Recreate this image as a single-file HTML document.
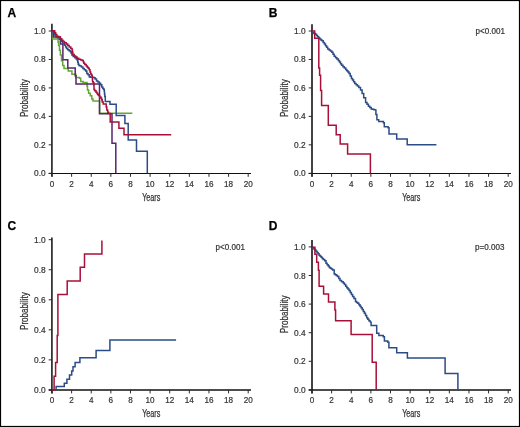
<!DOCTYPE html>
<html><head><meta charset="utf-8"><style>
html,body{margin:0;padding:0;background:#fff;}
svg{display:block;will-change:transform;}
.t{font-family:"Liberation Sans",sans-serif;font-size:8.6px;fill:#333;stroke:#333;stroke-width:0.2px;}
.l{font-family:"Liberation Sans",sans-serif;font-size:9.6px;fill:#333;stroke:#333;stroke-width:0.25px;}
.p{font-family:"Liberation Sans",sans-serif;font-size:8.3px;fill:#333;stroke:#333;stroke-width:0.2px;}
.b{font-family:"Liberation Sans",sans-serif;font-size:12px;font-weight:bold;fill:#000;stroke:#000;stroke-width:0.25px;}
</style></head><body>
<svg width="520" height="427" viewBox="0 0 520 427">
<rect x="0" y="0" width="520" height="427" fill="#fff"/>
<rect x="0.5" y="0.5" width="519" height="426" fill="none" stroke="#000" stroke-width="1.2"/>
<line x1="51.9" y1="23.8" x2="51.9" y2="176.8" stroke="#2a2a2a" stroke-width="1.7"/>
<line x1="48.7" y1="173.5" x2="251.00000000000003" y2="173.5" stroke="#111" stroke-width="1.2"/>
<line x1="48.7" y1="173.30" x2="52" y2="173.30" stroke="#2a2a2a" stroke-width="1"/>
<text transform="translate(45.60,176.30) scale(0.97,1)" text-anchor="end" class="t">0.0</text>
<line x1="48.7" y1="144.84" x2="52" y2="144.84" stroke="#2a2a2a" stroke-width="1"/>
<text transform="translate(45.60,147.84) scale(0.97,1)" text-anchor="end" class="t">0.2</text>
<line x1="48.7" y1="116.38" x2="52" y2="116.38" stroke="#2a2a2a" stroke-width="1"/>
<text transform="translate(45.60,119.38) scale(0.97,1)" text-anchor="end" class="t">0.4</text>
<line x1="48.7" y1="87.92" x2="52" y2="87.92" stroke="#2a2a2a" stroke-width="1"/>
<text transform="translate(45.60,90.92) scale(0.97,1)" text-anchor="end" class="t">0.6</text>
<line x1="48.7" y1="59.46" x2="52" y2="59.46" stroke="#2a2a2a" stroke-width="1"/>
<text transform="translate(45.60,62.46) scale(0.97,1)" text-anchor="end" class="t">0.8</text>
<line x1="48.7" y1="31.00" x2="52" y2="31.00" stroke="#2a2a2a" stroke-width="1"/>
<text transform="translate(45.60,34.00) scale(0.97,1)" text-anchor="end" class="t">1.0</text>
<line x1="52.00" y1="173.3" x2="52.00" y2="176.8" stroke="#2a2a2a" stroke-width="1"/>
<text transform="translate(52.00,186.50) scale(0.95,1)" text-anchor="middle" class="t">0</text>
<line x1="71.62" y1="173.3" x2="71.62" y2="176.8" stroke="#2a2a2a" stroke-width="1"/>
<text transform="translate(71.62,186.50) scale(0.95,1)" text-anchor="middle" class="t">2</text>
<line x1="91.24" y1="173.3" x2="91.24" y2="176.8" stroke="#2a2a2a" stroke-width="1"/>
<text transform="translate(91.24,186.50) scale(0.95,1)" text-anchor="middle" class="t">4</text>
<line x1="110.86" y1="173.3" x2="110.86" y2="176.8" stroke="#2a2a2a" stroke-width="1"/>
<text transform="translate(110.86,186.50) scale(0.95,1)" text-anchor="middle" class="t">6</text>
<line x1="130.48" y1="173.3" x2="130.48" y2="176.8" stroke="#2a2a2a" stroke-width="1"/>
<text transform="translate(130.48,186.50) scale(0.95,1)" text-anchor="middle" class="t">8</text>
<line x1="150.10" y1="173.3" x2="150.10" y2="176.8" stroke="#2a2a2a" stroke-width="1"/>
<text transform="translate(150.10,186.50) scale(0.95,1)" text-anchor="middle" class="t">10</text>
<line x1="169.72" y1="173.3" x2="169.72" y2="176.8" stroke="#2a2a2a" stroke-width="1"/>
<text transform="translate(169.72,186.50) scale(0.95,1)" text-anchor="middle" class="t">12</text>
<line x1="189.34" y1="173.3" x2="189.34" y2="176.8" stroke="#2a2a2a" stroke-width="1"/>
<text transform="translate(189.34,186.50) scale(0.95,1)" text-anchor="middle" class="t">14</text>
<line x1="208.96" y1="173.3" x2="208.96" y2="176.8" stroke="#2a2a2a" stroke-width="1"/>
<text transform="translate(208.96,186.50) scale(0.95,1)" text-anchor="middle" class="t">16</text>
<line x1="228.58" y1="173.3" x2="228.58" y2="176.8" stroke="#2a2a2a" stroke-width="1"/>
<text transform="translate(228.58,186.50) scale(0.95,1)" text-anchor="middle" class="t">18</text>
<line x1="248.20" y1="173.3" x2="248.20" y2="176.8" stroke="#2a2a2a" stroke-width="1"/>
<text transform="translate(248.20,186.50) scale(0.95,1)" text-anchor="middle" class="t">20</text>
<text x="151.30" y="200.60" text-anchor="middle" class="l" style="font-size:10.2px" textLength="18.2" lengthAdjust="spacingAndGlyphs">Years</text>
<text transform="translate(27.70,98.2) rotate(-90)" x="0" y="0" text-anchor="middle" class="l" style="font-size:10px" textLength="37.8" lengthAdjust="spacingAndGlyphs">Probability</text>
<text x="7.5" y="17.1" class="b">A</text>
<path d="M52,31H52.5V39H57.8H58.0V42.0H58.6V45.6H59.5V50.3H60.4V55.1H61.5V60.7H62.7V65.5H64.0V68.6H64.8H68.2V71H71.9V74.2H75.9V77.4H79.5V78.2H80.7V81.4H83.1V82.6H86.8H87.0V86.2H87.5V90.1H88.6V93.3H90.2V95.7H91.8V98.9H93.0V100.9H93.4H99.6V113.2H132.4" fill="none" stroke="#62a833" stroke-width="1.5" stroke-linejoin="miter"/>
<path d="M52,30.8H53.3V37.1H60.4V44H62.9V59.8H67.8V67.9H75.2V75.8H76V84.1H99.5V113.7H112V143.3H115.8V173.3" fill="none" stroke="#5a2470" stroke-width="1.5" stroke-linejoin="miter"/>
<path d="M52.0,30.8H52.9V32.2H54.5V35.0H55.9V37.1H57.5V37.8H59.3V39.2H61.1V41.5H62.8V43.5H64.4V45.3H65.7V47.0H66.5V48.4H67.7V49.8H69.1V50.8H70.3V51.8H71.2V53.2H71.9V55.0H73.2V56.6H74.8V57.8H76.2V59.0H77.3V60.4H77.8V62.3H78.2V64.2H78.9V65.6H80.1V66.1H81.5V67.0H82.9V68.4H84.3V69.8H85.7V71.1H86.8V73.4H88.0V74.8H89.2V76.7H90.2V77.2H93.4V77.2H93.9V77.8H95.1V79.1H96.5V80.9H97.9V81.9H99.3V83.3H100.6V84.8H101.8V87.0H102.8V88.4H103.7V89.4H104.3V91.7H104.5V94.1H104.8V96.4H105.3V101.6H110.0V101.6H110.0V104.2H116.2V104.2H116.2V115.4H124.9V115.4H124.9V123.6H128.2V123.6H128.2V140.0H136.5V140.0H136.5V151.2H147.3V151.2H147.3V173.3H147.3" fill="none" stroke="#2c4c86" stroke-width="1.5" stroke-linejoin="miter"/>
<path d="M52.0,30.8H54.2V30.8H54.7V32.7H55.7V34.6H56.8V36.2H58.5V36.9H60.3V38.8H61.8V40.2H63.0V41.4H64.5V42.7H66.2V44.0H67.8V45.5H69.2V47.0H70.8V48.5H72.1V50.3H72.5V52.6H72.9V54.5H74.2V55.9H75.7V56.9H77.1V58.3H78.7V59.2H80.6V60.0H82.4V60.4H83.3V61.8H83.8V63.2H84.8V64.6H86.2V66.1H87.3V67.3H88.2V68.3H89.2V69.7H90.0V72.0H90.7V73.9H91.5V75.3H92.2V77.2H92.4V80.0H92.6V81.8H93.3V82.8H93.9V85.6H94.0V89.4H94.7V90.8H96.0V92.2H97.0V93.6H97.7V94.5H98.5V95.5H99.7V96.9H100.9V98.3H101.7V99.8H102.2V102.0H103.2V104.0H106.0V104.0H106.2V107.1H106.8V109.9H107.7V112.3H108.5V113.5H110.2V113.5H110.2V121.9H118.9V121.9H118.9V128.3H124.0V128.3H124.0V134.8H171.2V134.8H171.2" fill="none" stroke="#a8103a" stroke-width="1.5" stroke-linejoin="miter"/>
<line x1="312.0" y1="24.2" x2="312.0" y2="176.8" stroke="#222" stroke-width="1.7"/>
<line x1="308.7" y1="173.5" x2="511.00000000000006" y2="173.5" stroke="#111" stroke-width="1.2"/>
<line x1="308.7" y1="173.30" x2="312" y2="173.30" stroke="#2a2a2a" stroke-width="1"/>
<text transform="translate(305.60,176.30) scale(0.97,1)" text-anchor="end" class="t">0.0</text>
<line x1="308.7" y1="144.84" x2="312" y2="144.84" stroke="#2a2a2a" stroke-width="1"/>
<text transform="translate(305.60,147.84) scale(0.97,1)" text-anchor="end" class="t">0.2</text>
<line x1="308.7" y1="116.38" x2="312" y2="116.38" stroke="#2a2a2a" stroke-width="1"/>
<text transform="translate(305.60,119.38) scale(0.97,1)" text-anchor="end" class="t">0.4</text>
<line x1="308.7" y1="87.92" x2="312" y2="87.92" stroke="#2a2a2a" stroke-width="1"/>
<text transform="translate(305.60,90.92) scale(0.97,1)" text-anchor="end" class="t">0.6</text>
<line x1="308.7" y1="59.46" x2="312" y2="59.46" stroke="#2a2a2a" stroke-width="1"/>
<text transform="translate(305.60,62.46) scale(0.97,1)" text-anchor="end" class="t">0.8</text>
<line x1="308.7" y1="31.00" x2="312" y2="31.00" stroke="#2a2a2a" stroke-width="1"/>
<text transform="translate(305.60,34.00) scale(0.97,1)" text-anchor="end" class="t">1.0</text>
<line x1="312.00" y1="173.3" x2="312.00" y2="176.8" stroke="#2a2a2a" stroke-width="1"/>
<text transform="translate(312.00,186.50) scale(0.95,1)" text-anchor="middle" class="t">0</text>
<line x1="331.62" y1="173.3" x2="331.62" y2="176.8" stroke="#2a2a2a" stroke-width="1"/>
<text transform="translate(331.62,186.50) scale(0.95,1)" text-anchor="middle" class="t">2</text>
<line x1="351.24" y1="173.3" x2="351.24" y2="176.8" stroke="#2a2a2a" stroke-width="1"/>
<text transform="translate(351.24,186.50) scale(0.95,1)" text-anchor="middle" class="t">4</text>
<line x1="370.86" y1="173.3" x2="370.86" y2="176.8" stroke="#2a2a2a" stroke-width="1"/>
<text transform="translate(370.86,186.50) scale(0.95,1)" text-anchor="middle" class="t">6</text>
<line x1="390.48" y1="173.3" x2="390.48" y2="176.8" stroke="#2a2a2a" stroke-width="1"/>
<text transform="translate(390.48,186.50) scale(0.95,1)" text-anchor="middle" class="t">8</text>
<line x1="410.10" y1="173.3" x2="410.10" y2="176.8" stroke="#2a2a2a" stroke-width="1"/>
<text transform="translate(410.10,186.50) scale(0.95,1)" text-anchor="middle" class="t">10</text>
<line x1="429.72" y1="173.3" x2="429.72" y2="176.8" stroke="#2a2a2a" stroke-width="1"/>
<text transform="translate(429.72,186.50) scale(0.95,1)" text-anchor="middle" class="t">12</text>
<line x1="449.34" y1="173.3" x2="449.34" y2="176.8" stroke="#2a2a2a" stroke-width="1"/>
<text transform="translate(449.34,186.50) scale(0.95,1)" text-anchor="middle" class="t">14</text>
<line x1="468.96" y1="173.3" x2="468.96" y2="176.8" stroke="#2a2a2a" stroke-width="1"/>
<text transform="translate(468.96,186.50) scale(0.95,1)" text-anchor="middle" class="t">16</text>
<line x1="488.58" y1="173.3" x2="488.58" y2="176.8" stroke="#2a2a2a" stroke-width="1"/>
<text transform="translate(488.58,186.50) scale(0.95,1)" text-anchor="middle" class="t">18</text>
<line x1="508.20" y1="173.3" x2="508.20" y2="176.8" stroke="#2a2a2a" stroke-width="1"/>
<text transform="translate(508.20,186.50) scale(0.95,1)" text-anchor="middle" class="t">20</text>
<text x="411.30" y="200.60" text-anchor="middle" class="l" style="font-size:10.2px" textLength="18.2" lengthAdjust="spacingAndGlyphs">Years</text>
<text transform="translate(287.70,98.2) rotate(-90)" x="0" y="0" text-anchor="middle" class="l" style="font-size:10px" textLength="37.8" lengthAdjust="spacingAndGlyphs">Probability</text>
<text x="268.7" y="17.1" class="b">B</text>
<text x="475.6" y="33.9" class="p" textLength="29.3" lengthAdjust="spacingAndGlyphs">p&lt;0.001</text>
<path d="M312.0,31.0H312.5V32.8H313.9V33.5H315.4V34.2H316.5V35.5H317.6V36.8H318.7V38.1H319.8V39.0H320.9V39.9H322.0V40.8H323.2V42.4H324.4V44.0H325.5V45.7H326.6V47.3H327.7V49.0H329.1V50.1H330.4V51.1H331.8V52.2H333.0V54.2H334.2V56.3H335.6V57.7H336.9V59.0H338.3V60.4H339.4V62.0H340.5V63.7H341.6V65.3H343.0V66.7H344.3V68.0H345.7V69.4H346.8V70.8H347.9V72.1H349.0V73.5H350.2V76.0H351.4V78.5H352.5V80.1H353.6V81.8H354.7V83.4H356.1V84.8H357.4V86.1H358.8V87.5H360.5V90.0H362.1V93.5H363.7V97.8H365.6V102.5H367.0V104.3H368.4V106.2H369.8V107.6H371.2V109.0H372.5V109.3H373.9V109.7H375.2V110.0M375.2,110.0H375.9V114.6H376.9V119.7H378.7V121.6H383.4V122.7H384.3V126.8H388.1V127.8H389.0V133.9H396.7V133.9H396.7V139.0H407.2V139.0H407.2V144.7H436.4" fill="none" stroke="#2c4c86" stroke-width="1.5" stroke-linejoin="miter"/>
<path d="M312,31H314.7V38.3H318.8V68H319.6V75.2H320.6V90.4H321.6V105.4H328.3V125.2H336.2V134.7H340.2V143.9H347.6V154H370.4V173.3" fill="none" stroke="#a8103a" stroke-width="1.5" stroke-linejoin="miter"/>
<line x1="51.9" y1="237.4" x2="51.9" y2="393.4" stroke="#2a2a2a" stroke-width="1.7"/>
<line x1="48.7" y1="390.0" x2="251.00000000000003" y2="390.0" stroke="#111" stroke-width="1.7"/>
<line x1="48.7" y1="389.90" x2="52" y2="389.90" stroke="#2a2a2a" stroke-width="1"/>
<text transform="translate(45.60,392.90) scale(0.97,1)" text-anchor="end" class="t">0.0</text>
<line x1="48.7" y1="359.86" x2="52" y2="359.86" stroke="#2a2a2a" stroke-width="1"/>
<text transform="translate(45.60,362.86) scale(0.97,1)" text-anchor="end" class="t">0.2</text>
<line x1="48.7" y1="329.82" x2="52" y2="329.82" stroke="#2a2a2a" stroke-width="1"/>
<text transform="translate(45.60,332.82) scale(0.97,1)" text-anchor="end" class="t">0.4</text>
<line x1="48.7" y1="299.78" x2="52" y2="299.78" stroke="#2a2a2a" stroke-width="1"/>
<text transform="translate(45.60,302.78) scale(0.97,1)" text-anchor="end" class="t">0.6</text>
<line x1="48.7" y1="269.74" x2="52" y2="269.74" stroke="#2a2a2a" stroke-width="1"/>
<text transform="translate(45.60,272.74) scale(0.97,1)" text-anchor="end" class="t">0.8</text>
<line x1="48.7" y1="239.70" x2="52" y2="239.70" stroke="#2a2a2a" stroke-width="1"/>
<text transform="translate(45.60,242.70) scale(0.97,1)" text-anchor="end" class="t">1.0</text>
<line x1="52.00" y1="389.9" x2="52.00" y2="393.4" stroke="#2a2a2a" stroke-width="1"/>
<text transform="translate(52.00,403.10) scale(0.95,1)" text-anchor="middle" class="t">0</text>
<line x1="71.62" y1="389.9" x2="71.62" y2="393.4" stroke="#2a2a2a" stroke-width="1"/>
<text transform="translate(71.62,403.10) scale(0.95,1)" text-anchor="middle" class="t">2</text>
<line x1="91.24" y1="389.9" x2="91.24" y2="393.4" stroke="#2a2a2a" stroke-width="1"/>
<text transform="translate(91.24,403.10) scale(0.95,1)" text-anchor="middle" class="t">4</text>
<line x1="110.86" y1="389.9" x2="110.86" y2="393.4" stroke="#2a2a2a" stroke-width="1"/>
<text transform="translate(110.86,403.10) scale(0.95,1)" text-anchor="middle" class="t">6</text>
<line x1="130.48" y1="389.9" x2="130.48" y2="393.4" stroke="#2a2a2a" stroke-width="1"/>
<text transform="translate(130.48,403.10) scale(0.95,1)" text-anchor="middle" class="t">8</text>
<line x1="150.10" y1="389.9" x2="150.10" y2="393.4" stroke="#2a2a2a" stroke-width="1"/>
<text transform="translate(150.10,403.10) scale(0.95,1)" text-anchor="middle" class="t">10</text>
<line x1="169.72" y1="389.9" x2="169.72" y2="393.4" stroke="#2a2a2a" stroke-width="1"/>
<text transform="translate(169.72,403.10) scale(0.95,1)" text-anchor="middle" class="t">12</text>
<line x1="189.34" y1="389.9" x2="189.34" y2="393.4" stroke="#2a2a2a" stroke-width="1"/>
<text transform="translate(189.34,403.10) scale(0.95,1)" text-anchor="middle" class="t">14</text>
<line x1="208.96" y1="389.9" x2="208.96" y2="393.4" stroke="#2a2a2a" stroke-width="1"/>
<text transform="translate(208.96,403.10) scale(0.95,1)" text-anchor="middle" class="t">16</text>
<line x1="228.58" y1="389.9" x2="228.58" y2="393.4" stroke="#2a2a2a" stroke-width="1"/>
<text transform="translate(228.58,403.10) scale(0.95,1)" text-anchor="middle" class="t">18</text>
<line x1="248.20" y1="389.9" x2="248.20" y2="393.4" stroke="#2a2a2a" stroke-width="1"/>
<text transform="translate(248.20,403.10) scale(0.95,1)" text-anchor="middle" class="t">20</text>
<text x="151.30" y="417.20" text-anchor="middle" class="l" style="font-size:10.2px" textLength="18.2" lengthAdjust="spacingAndGlyphs">Years</text>
<text transform="translate(27.70,311.1) rotate(-90)" x="0" y="0" text-anchor="middle" class="l" style="font-size:10px" textLength="37.8" lengthAdjust="spacingAndGlyphs">Probability</text>
<text x="7.4" y="230.0" class="b">C</text>
<text x="215.6" y="250.2" class="p" textLength="29.3" lengthAdjust="spacingAndGlyphs">p&lt;0.001</text>
<path d="M52,389.9H54.1V376.2H55.6V362.5H57.2V335.6H57.9V294.4H67.2V281.1H80.2V267.2H84.5V253.9H101.9V240.4" fill="none" stroke="#a8103a" stroke-width="1.5" stroke-linejoin="miter"/>
<path d="M55,389.9H56.1V386.6H64.3V383.2H66.9V379.3H69.5V374.9H71.7V371H73V366.7H75.1V362.4H79.9V357.8H96.1V350.5H109.9V340.1H176.1" fill="none" stroke="#2c4c86" stroke-width="1.5" stroke-linejoin="miter"/>
<line x1="312.0" y1="240.1" x2="312.0" y2="393.4" stroke="#222" stroke-width="1.7"/>
<line x1="308.7" y1="390.0" x2="511.00000000000006" y2="390.0" stroke="#111" stroke-width="1.7"/>
<line x1="308.7" y1="389.90" x2="312" y2="389.90" stroke="#2a2a2a" stroke-width="1"/>
<text transform="translate(305.60,392.90) scale(0.97,1)" text-anchor="end" class="t">0.0</text>
<line x1="308.7" y1="361.30" x2="312" y2="361.30" stroke="#2a2a2a" stroke-width="1"/>
<text transform="translate(305.60,364.30) scale(0.97,1)" text-anchor="end" class="t">0.2</text>
<line x1="308.7" y1="332.70" x2="312" y2="332.70" stroke="#2a2a2a" stroke-width="1"/>
<text transform="translate(305.60,335.70) scale(0.97,1)" text-anchor="end" class="t">0.4</text>
<line x1="308.7" y1="304.10" x2="312" y2="304.10" stroke="#2a2a2a" stroke-width="1"/>
<text transform="translate(305.60,307.10) scale(0.97,1)" text-anchor="end" class="t">0.6</text>
<line x1="308.7" y1="275.50" x2="312" y2="275.50" stroke="#2a2a2a" stroke-width="1"/>
<text transform="translate(305.60,278.50) scale(0.97,1)" text-anchor="end" class="t">0.8</text>
<line x1="308.7" y1="246.90" x2="312" y2="246.90" stroke="#2a2a2a" stroke-width="1"/>
<text transform="translate(305.60,249.90) scale(0.97,1)" text-anchor="end" class="t">1.0</text>
<line x1="312.00" y1="389.9" x2="312.00" y2="393.4" stroke="#2a2a2a" stroke-width="1"/>
<text transform="translate(312.00,403.10) scale(0.95,1)" text-anchor="middle" class="t">0</text>
<line x1="331.62" y1="389.9" x2="331.62" y2="393.4" stroke="#2a2a2a" stroke-width="1"/>
<text transform="translate(331.62,403.10) scale(0.95,1)" text-anchor="middle" class="t">2</text>
<line x1="351.24" y1="389.9" x2="351.24" y2="393.4" stroke="#2a2a2a" stroke-width="1"/>
<text transform="translate(351.24,403.10) scale(0.95,1)" text-anchor="middle" class="t">4</text>
<line x1="370.86" y1="389.9" x2="370.86" y2="393.4" stroke="#2a2a2a" stroke-width="1"/>
<text transform="translate(370.86,403.10) scale(0.95,1)" text-anchor="middle" class="t">6</text>
<line x1="390.48" y1="389.9" x2="390.48" y2="393.4" stroke="#2a2a2a" stroke-width="1"/>
<text transform="translate(390.48,403.10) scale(0.95,1)" text-anchor="middle" class="t">8</text>
<line x1="410.10" y1="389.9" x2="410.10" y2="393.4" stroke="#2a2a2a" stroke-width="1"/>
<text transform="translate(410.10,403.10) scale(0.95,1)" text-anchor="middle" class="t">10</text>
<line x1="429.72" y1="389.9" x2="429.72" y2="393.4" stroke="#2a2a2a" stroke-width="1"/>
<text transform="translate(429.72,403.10) scale(0.95,1)" text-anchor="middle" class="t">12</text>
<line x1="449.34" y1="389.9" x2="449.34" y2="393.4" stroke="#2a2a2a" stroke-width="1"/>
<text transform="translate(449.34,403.10) scale(0.95,1)" text-anchor="middle" class="t">14</text>
<line x1="468.96" y1="389.9" x2="468.96" y2="393.4" stroke="#2a2a2a" stroke-width="1"/>
<text transform="translate(468.96,403.10) scale(0.95,1)" text-anchor="middle" class="t">16</text>
<line x1="488.58" y1="389.9" x2="488.58" y2="393.4" stroke="#2a2a2a" stroke-width="1"/>
<text transform="translate(488.58,403.10) scale(0.95,1)" text-anchor="middle" class="t">18</text>
<line x1="508.20" y1="389.9" x2="508.20" y2="393.4" stroke="#2a2a2a" stroke-width="1"/>
<text transform="translate(508.20,403.10) scale(0.95,1)" text-anchor="middle" class="t">20</text>
<text x="411.30" y="417.20" text-anchor="middle" class="l" style="font-size:10.2px" textLength="18.2" lengthAdjust="spacingAndGlyphs">Years</text>
<text transform="translate(287.70,314.3) rotate(-90)" x="0" y="0" text-anchor="middle" class="l" style="font-size:10px" textLength="37.8" lengthAdjust="spacingAndGlyphs">Probability</text>
<text x="268.7" y="229.8" class="b">D</text>
<text x="475.1" y="250.2" class="p" textLength="29.3" lengthAdjust="spacingAndGlyphs">p=0.003</text>
<path d="M312.0,247.2H312.8V247.8H313.9V248.9H314.9V250.0H315.9V251.2H317.0V252.4H318.1V253.8H319.1V255.2H320.1V256.2H321.2V257.3H322.2V258.4H323.3V259.4H324.7V260.8H326.0V263.3H327.1V264.7H328.2V266.0H329.3V267.4H330.4V268.2H331.5V269.1H332.6V269.9H334.2V274.0H335.3V274.8H336.4V275.6H337.5V276.4H338.8V278.4H340.0V280.5H341.6V281.8H343.2V283.0H344.4V284.6H345.7V286.3H346.8V287.7H347.9V289.0H349.0V290.4H350.2V292.4H351.4V294.5H352.6V296.6H353.9V298.6H355.5V301.5H356.6V302.4H357.8V303.3H358.9V304.8H360.0V306.3H361.1V307.8H362.2V309.6H363.3V311.5H364.4V313.3H365.5V315.6H366.7V317.8H367.8V319.3H368.9V320.7H370.0V322.2M370.0,322.2H371.1V325.6H375.6V325.6H376.7V333.3H378.9V335.6H383.3V336.7H384.4V341.1H387.8V342.2H388.9V347.8H396.7V347.8H396.7V352.8H407.4V352.8H407.4V357.9H445.1V357.9H445.1V373.6H457.9V373.6H457.9V389.9" fill="none" stroke="#2c4c86" stroke-width="1.5" stroke-linejoin="miter"/>
<path d="M312,247.2H314.9V254.2H316.7V262.2H318.4V270.3H319.1V286.3H323.6V294.1H328.5V301.9H334.9V310H335.6V320.7H351.1V334.4H372.2V362.2H376.2V389.9" fill="none" stroke="#a8103a" stroke-width="1.5" stroke-linejoin="miter"/>
</svg>
</body></html>
